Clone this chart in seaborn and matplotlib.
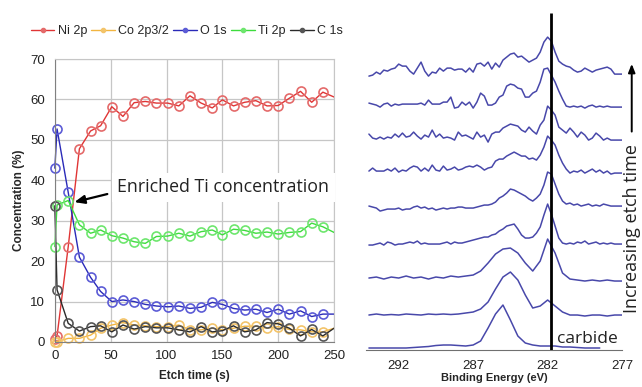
import numpy as np
import pandas as pd
import matplotlib
matplotlib.use("Agg")
import matplotlib.pyplot as plt
import seaborn as sns
from matplotlib.lines import Line2D
from matplotlib.ticker import MultipleLocator

# ---------------- left panel data (XPS depth profile) ----------------
etch_time = [0, 2, 12, 22, 32, 41, 51, 61, 71, 81, 91, 101, 111, 121, 131,
             141, 150, 160, 170, 180, 190, 200, 210, 220, 230, 240, 250]
ni_2p = [0.7, 1.5, 23.6, 47.8, 52.2, 53.5, 58.2, 55.8, 59.2, 59.5, 59.1, 59.1, 58.4, 60.9,
         59.1, 57.9, 59.9, 58.4, 59.3, 59.7, 58.4, 58.5, 60.3, 62.0, 59.3, 61.8, 60.6]
co_2p32 = [0.1, 0.1, 0.9, 0.9, 1.7, 3.4, 4.2, 4.8, 4.2, 4.0, 3.8, 3.8, 4.2, 3.0,
           3.0, 3.4, 3.0, 3.4, 3.9, 3.9, 3.4, 3.8, 3.1, 3.0, 2.5, 2.5, 3.4]
o_1s = [43.0, 52.7, 37.0, 21.0, 16.0, 12.5, 10.0, 10.4, 10.0, 9.3, 8.9, 8.7, 8.9, 8.3,
        8.6, 9.8, 9.3, 8.3, 7.9, 8.1, 7.3, 8.1, 6.9, 7.7, 6.3, 6.9, 6.9]
ti_2p = [23.6, 33.9, 35.0, 29.0, 26.9, 27.7, 26.3, 25.7, 24.8, 24.4, 26.1, 26.2, 26.9, 26.2,
         27.3, 27.7, 26.5, 27.9, 27.6, 26.9, 27.2, 26.7, 27.1, 27.3, 29.4, 28.5, 27.1]
c_1s = [33.7, 12.9, 4.6, 2.7, 3.8, 4.0, 2.5, 4.2, 3.2, 3.8, 3.5, 3.5, 3.0, 2.5,
        3.8, 2.5, 2.8, 4.0, 2.5, 3.0, 4.8, 4.5, 3.4, 1.5, 3.1, 1.5, 3.4]
series_names = ["Ni 2p", "Co 2p3/2", "O 1s", "Ti 2p", "C 1s"]
line_colors = ["#e03535", "#f2b540", "#2a2ab8", "#3ddc3d", "#2a2a2a"]
marker_colors = ["#e46a6a", "#f3c46a", "#5c5cd6", "#6ee66e", "#555555"]

# ---------------- right panel data (C 1s spectra, offset stack) -------
energy_coarse = [294.0, 293.5, 293.0, 292.5, 292.0, 291.5, 291.0, 290.5, 290.0, 289.5,
                 289.0, 288.5, 288.0, 287.5, 287.0, 286.5, 286.0, 285.5, 285.0, 284.5,
                 284.0, 283.5, 283.0, 282.5, 282.0, 281.5, 281.0, 280.5, 280.0, 279.5,
                 279.0, 278.5, 278.0, 277.5, 277.0]
energy_fine = [294.0, 293.75, 293.5, 293.25, 293.0, 292.75, 292.5, 292.25, 292.0, 291.75,
               291.5, 291.25, 291.0, 290.75, 290.5, 290.25, 290.0, 289.75, 289.5, 289.25,
               289.0, 288.75, 288.5, 288.25, 288.0, 287.75, 287.5, 287.25, 287.0, 286.75,
               286.5, 286.25, 286.0, 285.75, 285.5, 285.25, 285.0, 284.75, 284.5, 284.25,
               284.0, 283.75, 283.5, 283.25, 283.0, 282.75, 282.5, 282.25, 282.0, 281.75,
               281.5, 281.25, 281.0, 280.75, 280.5, 280.25, 280.0, 279.75, 279.5, 279.25,
               279.0, 278.75, 278.5, 278.25, 278.0, 277.75, 277.5, 277.25, 277.0]
# heights above each trace's baseline, bottom trace (shortest etch) first
spec_1 = [0, 0, 0, 0, 0, 0, 0.5, 1, 1.5, 2.5, 3, 3, 2.5, 2, 3, 7, 20, 34, 43, 28,
          12, 5, 3, 2, 2, 2, 1, 1, 0.5, 0, 0, 0]
spec_2 = [0, 1, 0, 0.5, 0, 1, 0.5, 0, 1, 0.5, 1, 0.5, 1, 2, 3, 6, 13, 26, 38, 43,
          35, 20, 7, 9, 15, 9, 3, 0, 0, -1, 0, 0, -1, 0, 0]
spec_3 = [3, 4, 2, 4, 3, 5, 3, 4, 2, 4, 3, 5, 4, 5, 6, 10, 18, 27, 32, 33,
          28, 18, 10, 20, 42, 28, 8, 2, 1, 0, 1, 0, 1, 0, 0]
spec_4 = [-1, -1, 0, 1, -1, 2, 1, -1, 0, 0,
          1, 2, 1, 3, 0, 1, 0, 0, 0, 0,
          1, 2, 0, 2, 1, 1, 2, 3, 4, 5,
          6, 7, 7, 9, 10, 13, 15, 18, 19, 20,
          15, 9, 6, 6, 7, 11, 17, 29, 40, 30,
          18, 6, 1, 0, 1, 0, 2, 1, 3, 0,
          1, 2, 0, 1, 0, 1, 0, 0, 0]
spec_5 = [0, -1, -2, -5, -4, -3, -3, -3, -2, -4,
          -3, -3, -1, 0, -2, -1, -3, -2, -4, -3,
          -2, -3, -2, -2, -1, -1, -2, -2, -2, -1,
          0, 1, 1, 2, 4, 8, 10, 13, 17, 16,
          14, 12, 10, 7, 5, 8, 12, 21, 34, 32,
          22, 12, 5, 2, 3, 1, 2, 0, 1, 2,
          0, 1, 0, 2, 1, 0, 0, 0, 0]
spec_6 = [2, 5, 2, 2, 2, 4, 2, 5, 1, 3,
          2, 5, 7, 6, 2, 5, 2, 8, 3, 2,
          7, 3, 4, 6, 3, 4, 6, 7, 6, 8,
          6, 3, 5, 6, 12, 14, 14, 17, 19, 21,
          19, 17, 17, 14, 15, 13, 18, 26, 37, 33,
          28, 18, 10, 4, 0, 2, 1, 3, 0, 2,
          4, 1, 3, 0, 2, -1, 0, 0, 0]
spec_7 = [6, 2, 1, 3, 1, 3, 2, 6, 3, 7,
          3, 4, 8, 4, 1, 5, 3, 10, 3, 6,
          2, 3, 2, 0, 8, 4, 5, 3, 1, 8,
          3, 5, -2, 6, 8, 8, 12, 14, 16, 15,
          14, 10, 8, 13, 9, 6, 15, 20, 34, 30,
          25, 13, 10, 7, 12, 8, 3, 8, 5, 0,
          2, 7, 4, 0, 2, 0, 0, 0, 0]
spec_8 = [4, 3, 2, 0, 3, 4, 1, 3, 2, 3,
          3, 3, 3, 3, 4, 2, 7, 3, 3, 3,
          5, 5, 10, -1, 0, 5, 2, 5, -1, 5,
          14, 11, 2, 2, 4, 10, 12, 21, 23, 22,
          19, 18, 10, 10, 14, 16, 25, 38, 39, 32,
          25, 16, 8, 1, 0, 1, 0, 1, -1, 1,
          2, 0, 1, 0, 1, 0, 0, 0, 0]
spec_9 = [-2, -1, 2, 0, 4, 3, 5, 6, 10, 8,
          8, 3, 0, 6, 12, 3, -2, 2, 1, 6,
          3, 6, 6, 4, 5, 5, 2, 6, 2, 10,
          11, 8, 12, 5, 11, 7, 14, 17, 20, 21,
          17, 18, 15, 12, 14, 16, 22, 32, 37, 33,
          22, 13, 10, 8, 7, 4, 2, 3, 6, 4,
          2, 4, 5, 6, 7, 5, 0, 0, 0]
spectra = [spec_1, spec_2, spec_3, spec_4, spec_5, spec_6, spec_7, spec_8, spec_9]
spectra_grid = [energy_coarse] * 3 + [energy_fine] * 6
baselines = [2, 35, 69, 106, 144, 177, 210, 243, 276]
carbide_be = 281.8
be_ticks = [292, 287, 282, 277]

# ---------------- style ----------------
sns.set_style("white")
plt.rcParams["font.family"] = ["Liberation Sans", "DejaVu Sans"]
plt.rcParams["axes.unicode_minus"] = False

fig = plt.figure(figsize=(6.42, 3.87), dpi=100)
fig.patch.set_facecolor("white")

# ---------------- left panel ----------------
axL = fig.add_axes([0.0854, 0.1163, 0.4349, 0.7312])
prof = pd.DataFrame({"t": etch_time, "Ni 2p": ni_2p, "Co 2p3/2": co_2p32,
                     "O 1s": o_1s, "Ti 2p": ti_2p, "C 1s": c_1s})
n = len(etch_time)
for name, lc, mc in zip(series_names, line_colors, marker_colors):
    sns.lineplot(data=prof, x="t", y=name, ax=axL, color=lc, lw=1.0,
                 marker="o", markersize=6.5, mfc="none", mec=mc, mew=1.2,
                 markevery=list(range(n - 1)), sort=False, estimator=None,
                 clip_on=False)
axL.set_xlim(0, 250)
axL.set_ylim(0, 70)
axL.xaxis.set_major_locator(MultipleLocator(50))
axL.xaxis.set_minor_locator(MultipleLocator(10))
axL.yaxis.set_major_locator(MultipleLocator(10))
axL.yaxis.set_minor_locator(MultipleLocator(2))
axL.grid(True, which="major", color="#c6c6c6", lw=0.9)
axL.set_axisbelow(True)
for s in ["left", "bottom"]:
    axL.spines[s].set_color("#808080")
for s in ["top", "right"]:
    axL.spines[s].set_color("#c6c6c6")
axL.tick_params(axis="both", which="major", labelsize=9.5, colors="#808080",
                labelcolor="#222222", length=4, width=0.8, direction="out", pad=3)
axL.tick_params(axis="y", which="minor", length=2.5, width=0.6, colors="#808080", direction="out")
axL.tick_params(axis="x", which="minor", length=3, width=0.6, colors="#808080", direction="inout")
axL.tick_params(axis="x", which="major", direction="inout", length=5)
axL.set_xlabel("Etch time (s)", fontsize=8.5, fontweight="bold", labelpad=6)
axL.set_ylabel("Concentration (%)", fontsize=8.5, fontweight="bold", labelpad=4)

axL.annotate("", xy=(17.5, 34.6), xytext=(47, 36.6),
             arrowprops=dict(arrowstyle="-|>,head_length=0.6,head_width=0.25",
                             color="black", lw=1.6, shrinkA=0, shrinkB=0))
axL.text(56, 38.3, "Enriched Ti concentration", fontsize=12.8, va="center", ha="left",
         family=["Open Sans", "DejaVu Sans"], color="#222222", zorder=5,
         bbox=dict(facecolor="white", edgecolor="none", pad=4))

handles = [Line2D([0], [0], color=lc, lw=1.0, marker="o", ms=3, mfc=mc, mec=mc)
           for lc, mc in zip(line_colors, marker_colors)]
fig.legend(handles, series_names, loc="center left", bbox_to_anchor=(0.04, 0.92),
           ncol=5, frameon=False, fontsize=9, handlelength=1.9, handletextpad=0.25,
           columnspacing=0.35, borderaxespad=0)

# ---------------- right panel ----------------
axR = fig.add_axes([0.570, 0.0956, 0.399, 0.8834])
for spec, grid, base in zip(spectra, spectra_grid, baselines):
    df = pd.DataFrame({"be": grid[:len(spec)], "y": [base + h for h in spec]})
    sns.lineplot(data=df, x="be", y="y", ax=axR, color="#4848aa", lw=1.1,
                 sort=False, estimator=None)
axR.vlines(carbide_be, 0, 337, color="black", lw=2.0, zorder=5)
axR.set_xlim(294.2, 277)
axR.set_ylim(0, 342)
axR.set_xticks(be_ticks)
axR.xaxis.set_minor_locator(MultipleLocator(1))
axR.set_yticks([])
for s in ["left", "top", "right"]:
    axR.spines[s].set_visible(False)
axR.spines["bottom"].set_color("#707070")
axR.tick_params(axis="x", which="major", labelsize=9.5, length=5, width=0.8,
                colors="#707070", labelcolor="#222222", direction="out", pad=2)
axR.tick_params(axis="x", which="minor", length=3.5, width=0.7, colors="#707070", direction="out")
axR.set_xlabel("Binding Energy (eV)", fontsize=8, fontweight="bold", labelpad=1)
axR.set_ylabel("")
axR.text(281.4, 7, "carbide", fontsize=12.5, ha="left", va="baseline",
         family=["Open Sans", "DejaVu Sans"], color="#222222", zorder=6)

fig.text(0.984, 0.41, "Increasing etch time", rotation=90, fontsize=13,
         ha="center", va="center", family=["Open Sans", "DejaVu Sans"], color="#222222")
axR.annotate("", xy=(0.984, 0.835), xytext=(0.984, 0.66), xycoords="figure fraction",
             textcoords="figure fraction",
             arrowprops=dict(arrowstyle="-|>,head_length=0.5,head_width=0.2",
                             color="black", lw=1.4, shrinkA=0, shrinkB=0))

fig.savefig("out.png", dpi=100)
